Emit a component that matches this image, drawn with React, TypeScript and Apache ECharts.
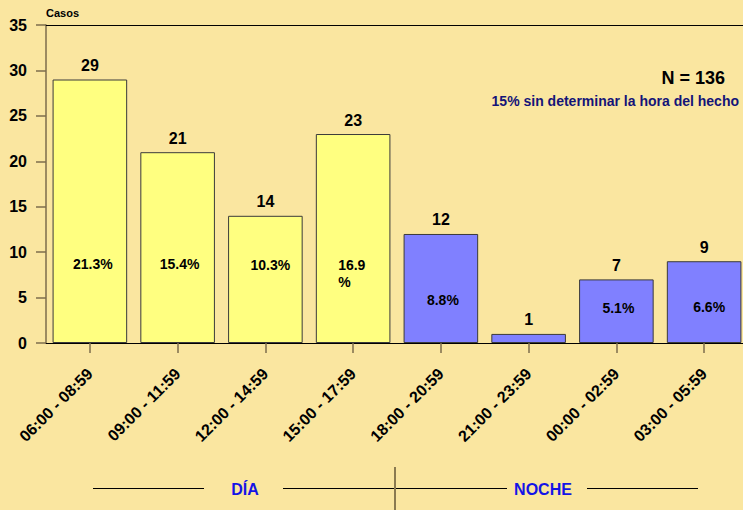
import React, { useEffect, useRef } from "react";
import * as echarts from "echarts";

const categories = [
  "06:00 - 08:59",
  "09:00 - 11:59",
  "12:00 - 14:59",
  "15:00 - 17:59",
  "18:00 - 20:59",
  "21:00 - 23:59",
  "00:00 - 02:59",
  "03:00 - 05:59",
];
const casos = [29, 21, 14, 23, 12, 1, 7, 9];
const percents: (number | null)[] = [21.3, 15.4, 10.3, 16.9, 8.8, null, 5.1, 6.6];
const periodo = ["DÍA", "DÍA", "DÍA", "DÍA", "NOCHE", "NOCHE", "NOCHE", "NOCHE"];
const yTicks = { min: 0, max: 35, interval: 5 };
const totalN = 136;
const sinHora = "15% sin determinar la hora del hecho";

// layout of the percentage labels (distance above the baseline, x shift)
const pctLift = [79, 79, 78, 70, 43, 0, 35, 36];
const pctShift = [3, 2, 5, -15, 2, 0, 2, 5];
const pctWrap = [false, false, false, true, false, false, false, false];

const FONT = "'Liberation Sans', Arial, Helvetica, sans-serif";
const BG = "#FAE6A0";
const AXIS_GRAY = "#7d6d4d";
const periodColor: Record<string, string> = { "DÍA": "#FFFF80", NOCHE: "#8080FF" };

export default function App() {
  const ref = useRef<HTMLDivElement>(null);

  useEffect(() => {
    if (!ref.current) return;
    const chart = echarts.init(ref.current, undefined, { renderer: "svg" });

    const barData = casos.map((v, i) => ({
      value: v,
      itemStyle: { color: periodColor[periodo[i]] },
    }));

    const pctData = casos.map((v, i) => ({
      value: v,
      label: {
        show: percents[i] != null,
        position: "insideBottom",
        distance: pctLift[i],
        verticalAlign: "middle",
        align: pctWrap[i] ? "left" : "center",
        offset: [pctShift[i], 0],
        formatter: () =>
          percents[i] == null
            ? ""
            : pctWrap[i]
            ? `${percents[i]!.toFixed(1)}\n%`
            : `${percents[i]!.toFixed(1)}%`,
      },
    }));

    chart.setOption({
      animation: false,
      backgroundColor: BG,
      textStyle: { fontFamily: FONT },
      grid: { left: 46, right: 0, top: 25, bottom: 167, containLabel: false },
      xAxis: [
        {
          type: "category",
          data: categories,
          position: "bottom",
          axisLine: { show: true, lineStyle: { color: "#000", width: 1 } },
          axisTick: {
            show: true,
            alignWithLabel: true,
            length: 10,
            lineStyle: { color: AXIS_GRAY, width: 1.5 },
          },
          axisLabel: {
            rotate: 45,
            interval: 0,
            margin: 28,
            color: "#000",
            fontSize: 16,
            fontWeight: "bold",
            fontFamily: FONT,
          },
          splitLine: { show: false },
        },
        {
          type: "category",
          data: categories,
          position: "top",
          axisLine: { show: true, lineStyle: { color: "#000", width: 1 } },
          axisTick: { show: false },
          axisLabel: { show: false },
          splitLine: { show: false },
        },
      ],
      yAxis: {
        type: "value",
        min: yTicks.min,
        max: yTicks.max,
        interval: yTicks.interval,
        axisLine: { show: true, lineStyle: { color: AXIS_GRAY, width: 1.5 } },
        axisTick: { show: true, length: 10, lineStyle: { color: AXIS_GRAY, width: 1.5 } },
        axisLabel: {
          margin: 19,
          color: "#000",
          fontSize: 16,
          fontWeight: "bold",
          fontFamily: FONT,
        },
        splitLine: { show: false },
      },
      series: [
        {
          type: "bar",
          data: barData,
          barCategoryGap: "15%",
          barGap: "-100%",
          itemStyle: { borderColor: "#3a3a3a", borderWidth: 1 },
          label: {
            show: true,
            position: "top",
            distance: 6,
            color: "#000",
            fontSize: 16,
            fontWeight: "bold",
            fontFamily: FONT,
          },
          z: 2,
        },
        {
          type: "bar",
          data: pctData,
          barCategoryGap: "15%",
          barGap: "-100%",
          silent: true,
          itemStyle: { color: "rgba(0,0,0,0)", borderWidth: 0 },
          label: {
            color: "#000",
            fontSize: 14,
            fontWeight: "bold",
            lineHeight: 17,
            fontFamily: FONT,
          },
          z: 3,
        },
      ],
      graphic: [
        {
          type: "text",
          left: 46,
          top: 7,
          style: { text: "Casos", font: `bold 11px ${FONT}`, fill: "#000" },
        },
        {
          type: "text",
          x: 725,
          y: 78,
          style: {
            text: `N = ${totalN}`,
            font: `bold 18px ${FONT}`,
            fill: "#000",
            align: "right",
            verticalAlign: "middle",
          },
        },
        {
          type: "text",
          x: 739,
          y: 101,
          style: {
            text: sinHora,
            font: `bold 14px ${FONT}`,
            fill: "#141478",
            align: "right",
            verticalAlign: "middle",
          },
        },
        { type: "line", shape: { x1: 93, y1: 488.5, x2: 204, y2: 488.5 }, style: { stroke: "#000", lineWidth: 1 } },
        { type: "line", shape: { x1: 283, y1: 488.5, x2: 507, y2: 488.5 }, style: { stroke: "#000", lineWidth: 1 } },
        { type: "line", shape: { x1: 587, y1: 488.5, x2: 698, y2: 488.5 }, style: { stroke: "#000", lineWidth: 1 } },
        { type: "line", shape: { x1: 395, y1: 467, x2: 395, y2: 510 }, style: { stroke: "#8a7a50", lineWidth: 2 } },
        {
          type: "text",
          x: 245,
          y: 489,
          style: {
            text: periodo[0],
            font: `bold 16px ${FONT}`,
            fill: "#1414E6",
            align: "center",
            verticalAlign: "middle",
          },
        },
        {
          type: "text",
          x: 543,
          y: 489,
          style: {
            text: periodo[4],
            font: `bold 16px ${FONT}`,
            fill: "#1414E6",
            align: "center",
            verticalAlign: "middle",
          },
        },
      ],
    });

    return () => chart.dispose();
  }, []);

  return (
    <div
      ref={ref}
      style={{ position: "fixed", left: 0, top: 0, width: 748, height: 510 }}
    />
  );
}
